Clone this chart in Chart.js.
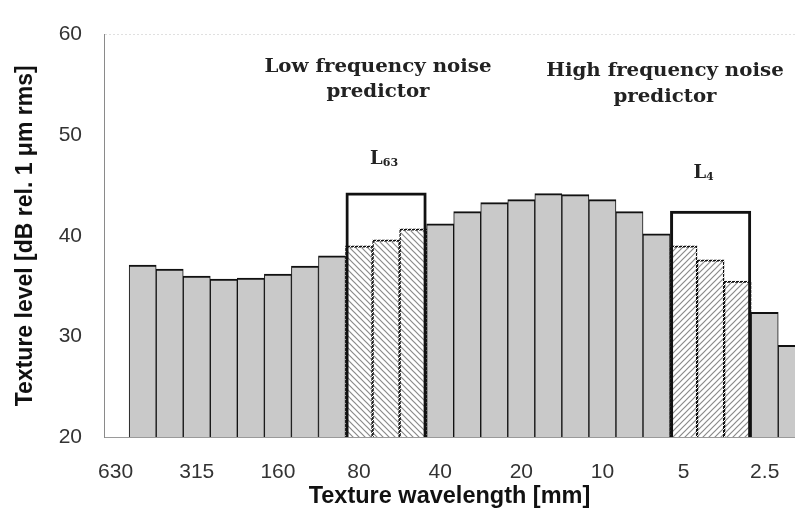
<!DOCTYPE html>
<html>
<head>
<meta charset="utf-8">
<script src="https://cdn.jsdelivr.net/npm/chart.js@4.4.1/dist/chart.umd.min.js"></script>
<style>
  html, body { margin: 0; padding: 0; background: #fff; overflow: hidden; }
  #wrap { width: 795px; height: 512px; position: relative; }
</style>
</head>
<body>
<div id="wrap"><canvas id="c" width="795" height="512"></canvas></div>
<script>
// One-third octave bands of texture wavelength [mm]
const wavelengths = ['630', '500', '400', '315', '250', '200', '160', '125', '100', '80', '63', '50',
  '40', '31.5', '25', '20', '16', '12.5', '10', '8', '6.3', '5', '4', '3.15', '2.5', '2'];
// Texture level per band [dB rel. 1 µm rms]
const levels = [null, 37.1, 36.7, 36.0, 35.7, 35.8, 36.2, 37.0, 38.0, 39.0, 39.6, 40.7,
  41.2, 42.4, 43.3, 43.6, 44.2, 44.1, 43.6, 42.4, 40.2, 39.0, 37.6, 35.5, 32.4, 29.1];
// Labelled bands on the wavelength axis
const tickLabels = ['630', '315', '160', '80', '40', '20', '10', '5', '2.5'];
// Bands summed into each noise predictor, and the summed levels
const lowBands = ['80', '63', '50'];
const highBands = ['5', '4', '3.15'];
const predictorLevels = [44.3, 42.5];
const predictorSubscripts = ['63', '4'];
const headings = [['Low frequency noise', 'predictor'], ['High frequency noise', 'predictor']];

const idx = w => wavelengths.indexOf(w);
const lowIdx = lowBands.map(idx);
const highIdx = highBands.map(idx);
const centerOf = arr => (arr[0] + arr[arr.length - 1]) / 2;

function hatch(dir) {
  const s = 6;
  const c = document.createElement('canvas');
  c.width = s; c.height = s;
  const g = c.getContext('2d');
  g.fillStyle = '#fff';
  g.fillRect(0, 0, s, s);
  g.strokeStyle = '#8a8a8a';
  g.lineWidth = 1.2;
  g.beginPath();
  if (dir === 'back') {
    g.moveTo(-1, -1); g.lineTo(s + 1, s + 1);
    g.moveTo(-1, s - 1); g.lineTo(1, s + 1);
    g.moveTo(s - 1, -1); g.lineTo(s + 1, 1);
  } else {
    g.moveTo(-1, s + 1); g.lineTo(s + 1, -1);
    g.moveTo(-1, 1); g.lineTo(1, -1);
    g.moveTo(s - 1, s + 1); g.lineTo(s + 1, s - 1);
  }
  g.stroke();
  return g.createPattern(c, 'repeat');
}
function dotted() {
  const c = document.createElement('canvas');
  c.width = 4; c.height = 4;
  const g = c.getContext('2d');
  g.fillStyle = '#111';
  g.fillRect(0, 0, 4, 4);
  g.fillStyle = '#fff';
  for (let y = 0; y < 4; y++) for (let x = 0; x < 4; x++) if ((x + y) % 4 === 0) g.fillRect(x, y, 1, 1);
  return g.createPattern(c, 'repeat');
}
const hatchLow = hatch('back');
const hatchHigh = hatch('fwd');
const dotBorder = dotted();

const barPoints = levels.map((v, i) => ({ x: i, y: v })).filter(p => p.y !== null);
const isLow = i => lowIdx.includes(i);
const isHigh = i => highIdx.includes(i);

function wideText(ctx, text, x, y, sx) {
  ctx.save();
  ctx.translate(x, y);
  ctx.scale(sx, 1);
  ctx.fillText(text, 0, 0);
  ctx.restore();
}

const annotations = {
  id: 'annotations',
  afterDatasetsDraw(chart) {
    const { ctx, scales: { x, y } } = chart;
    ctx.save();
    ctx.fillStyle = '#222';
    ctx.textAlign = 'center';
    ctx.textBaseline = 'middle';
    ctx.font = 'bold 18px "DejaVu Serif", serif';
    const headPos = [[378, 67, 92], [665, 71, 97]];
    headings.forEach((lines, k) => {
      wideText(ctx, lines[0], headPos[k][0], headPos[k][1], 1.1);
      wideText(ctx, lines[1], headPos[k][0], headPos[k][2], 1.1);
    });
    // L with subscript above each predictor box
    const groups = [lowIdx, highIdx];
    const lift = [36, 40];
    const shift = [-2, -7];
    groups.forEach((g, k) => {
      const cx = x.getPixelForValue(centerOf(g)) + shift[k];
      const cy = y.getPixelForValue(predictorLevels[k]) - lift[k];
      ctx.font = 'bold 18px "DejaVu Serif", serif';
      const wl = ctx.measureText('L').width;
      ctx.font = 'bold 11px "DejaVu Serif", serif';
      const ws = ctx.measureText(predictorSubscripts[k]).width;
      const x0 = cx - (wl + ws) / 2;
      ctx.textAlign = 'left';
      ctx.textBaseline = 'alphabetic';
      ctx.font = 'bold 18px "DejaVu Serif", serif';
      ctx.fillText('L', x0, cy + 7);
      ctx.font = 'bold 11px "DejaVu Serif", serif';
      ctx.fillText(predictorSubscripts[k], x0 + wl, cy + 9);
    });
    ctx.restore();
  }
};

new Chart(document.getElementById('c'), {
  type: 'bar',
  data: {
    datasets: [
      {
        data: [{ x: centerOf(lowIdx), y: predictorLevels[0] }, { x: centerOf(highIdx), y: predictorLevels[1] }],
        backgroundColor: 'rgba(0,0,0,0)',
        borderColor: '#111',
        borderWidth: 3,
        borderSkipped: false,
        categoryPercentage: lowIdx.length,
        barPercentage: 1,
        order: 0
      },
      {
        data: barPoints,
        backgroundColor: c => isLow(c.raw.x) ? hatchLow : isHigh(c.raw.x) ? hatchHigh : '#c9c9c9',
        borderColor: c => (isLow(c.raw.x) || isHigh(c.raw.x)) ? dotBorder : '#111',
        borderWidth: c => (isLow(c.raw.x) || isHigh(c.raw.x))
          ? { top: 2, left: 1.5, right: 1.5, bottom: 1 }
          : { top: 2, left: 1, right: 1, bottom: 1 },
        borderSkipped: false,
        categoryPercentage: 1,
        barPercentage: 1,
        order: 1
      }
    ]
  },
  options: {
    responsive: false,
    animation: false,
    devicePixelRatio: 1,
    datasets: { bar: { grouped: false } },
    layout: { padding: { top: 22, left: 0, right: 0, bottom: 0 } },
    plugins: { legend: { display: false }, tooltip: { enabled: false } },
    scales: {
      x: {
        type: 'linear',
        offset: false,
        min: -0.43,
        max: 25.12,
        afterBuildTicks: s => { s.ticks = tickLabels.map(t => ({ value: idx(t) })); },
        afterFit: s => { s.height = 75; },
        grid: { display: false, offset: false },
        border: { display: true, color: '#9a9a9a', dash: [2, 2], width: 1 },
        ticks: {
          autoSkip: false,
          maxRotation: 0,
          padding: 15,
          color: '#333',
          font: { family: '"Liberation Sans", Arial, sans-serif', size: 21 },
          callback: v => wavelengths[v]
        },
        title: {
          display: true,
          text: 'Texture wavelength [mm]',
          color: '#111',
          padding: { top: 0, bottom: 1 },
          font: { family: '"Liberation Sans", Arial, sans-serif', size: 23.5, weight: 'bold' }
        }
      },
      y: {
        min: 20,
        max: 60,
        afterFit: s => { s.width = 104; },
        grid: {
          drawTicks: false,
          color: c => c.tick && c.tick.value === 60 ? 'rgba(0,0,0,0.12)' : 'rgba(0,0,0,0)'
        },
        border: { display: true, color: '#8a8a8a', dash: [2, 2], width: 1 },
        ticks: {
          stepSize: 10,
          padding: 22,
          color: '#333',
          font: { family: '"Liberation Sans", Arial, sans-serif', size: 21 }
        },
        title: {
          display: true,
          text: 'Texture level [dB rel. 1 μm rms]',
          color: '#111',
          padding: { top: 12, bottom: 0 },
          font: { family: '"Liberation Sans", Arial, sans-serif', size: 23, weight: 'bold' }
        }
      }
    }
  },
  plugins: [annotations]
});
</script>
</body>
</html>
